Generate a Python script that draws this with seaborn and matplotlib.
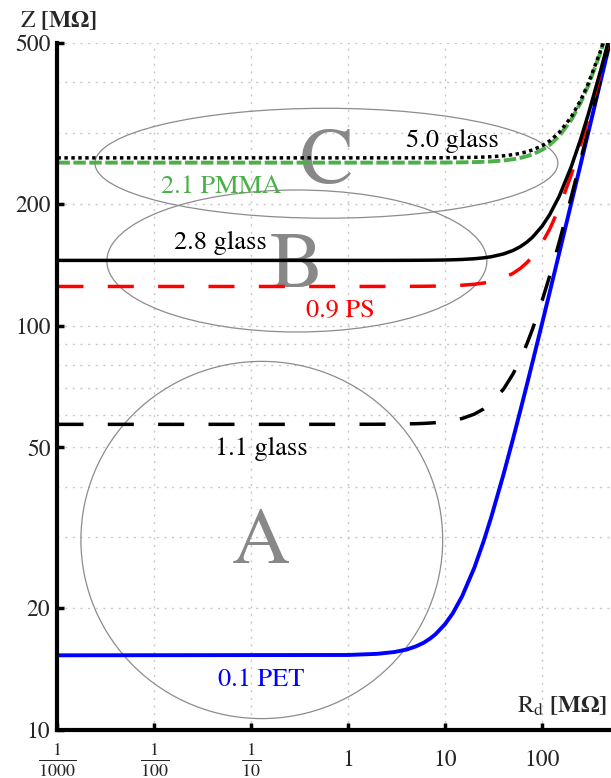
import numpy as np
import pandas as pd
import matplotlib
matplotlib.use('Agg')
import matplotlib.pyplot as plt
import seaborn as sns
from matplotlib.patches import Ellipse
from matplotlib.ticker import NullLocator, NullFormatter

# R_d values (MOhm) along the x axis where the curves were read
rd = [0.001, 1, 2, 3, 4, 5, 6, 7, 8, 10, 12, 15, 20, 25, 30, 40, 50, 60, 70, 80,
      100, 120, 150, 200, 250, 300, 400, 500]

# Z values (MOhm) at the rd points
z_pet = [15.3, 15.33, 15.43, 15.59, 15.81, 16.10, 16.43, 16.83, 17.27, 18.28, 19.44, 21.43,
         25.18, 29.31, 33.68, 42.83, 52.29, 61.92, 71.65, 81.45, 101.16, 120.97, 150.78,
         200.58, 250.47, 300.39, 400.29, 500.23]
z_glass11 = [57, 57.01, 57.04, 57.08, 57.14, 57.22, 57.31, 57.43, 57.56, 57.87, 58.25, 58.94,
             60.41, 62.24, 64.41, 69.63, 75.82, 82.76, 90.27, 98.23, 115.10, 132.85, 160.47,
             207.96, 256.42, 305.37, 404.04, 503.24]
z_ps = [125, 125.0, 125.02, 125.04, 125.06, 125.10, 125.14, 125.20, 125.26, 125.40, 125.57, 125.90,
        126.59, 127.48, 128.55, 131.24, 134.63, 138.65, 143.27, 148.41, 160.08, 173.28, 195.26,
        235.85, 279.51, 325.00, 419.08, 515.39]
z_glass28 = [145, 145.0, 145.01, 145.03, 145.06, 145.09, 145.12, 145.17, 145.22, 145.34, 145.50, 145.77,
             146.37, 147.14, 148.07, 150.42, 153.38, 156.92, 161.01, 165.60, 176.14, 188.22, 208.63,
             247.03, 289.01, 333.20, 425.47, 520.60]
z_pmma = [253, 253.0, 253.01, 253.02, 253.03, 253.05, 253.07, 253.10, 253.13, 253.20, 253.28, 253.44,
          253.79, 254.23, 254.77, 256.14, 257.89, 260.02, 262.51, 265.35, 272.05, 280.02, 294.13,
          322.50, 355.68, 392.44, 473.29, 560.37]
z_glass50 = [260, 260.0, 260.01, 260.02, 260.03, 260.05, 260.07, 260.09, 260.12, 260.19, 260.28, 260.43,
             260.77, 261.20, 261.73, 263.06, 264.76, 266.83, 269.26, 272.03, 278.57, 286.36, 300.17,
             328.02, 360.69, 396.99, 477.07, 563.56]

curve_names = ['0.1 PET', '1.1 glass', '0.9 PS', '2.8 glass', '2.1 PMMA', '5.0 glass']

x_ticks = [0.001, 0.01, 0.1, 1, 10, 100]
x_labels = [r'$\frac{1}{1000}$', r'$\frac{1}{100}$', r'$\frac{1}{10}$', '1', '10', '100']
y_ticks = [10, 20, 50, 100, 200, 500]
y_labels = ['10', '20', '50', '100', '200', '500']

sns.set_theme(style='white')
plt.rcParams['font.family'] = ['STIXGeneral', 'DejaVu Serif']
plt.rcParams['mathtext.fontset'] = 'stix'

fig = plt.figure(figsize=(6.11, 7.78), dpi=100)
ax = fig.add_axes([0.094, 0.0617, 0.904, 0.883])
ax.set_xscale('log')
ax.set_yscale('log')

# curve styles: color, linestyle, width
styles = {
    '0.1 PET': ('#0000ff', '-', 2.8),
    '1.1 glass': ('black', (0, (7.5, 7)), 2.5),
    '0.9 PS': ('#ff0000', (0, (7.5, 7)), 2.5),
    '2.8 glass': ('black', '-', 2.5),
    '2.1 PMMA': ('#4daf4a', (0, (3.2, 0.9)), 2.8),
    '5.0 glass': ('black', (0, (1, 1)), 2.5),
}
curves = [z_pet, z_glass11, z_ps, z_glass28, z_pmma, z_glass50]

for name, z in zip(curve_names, curves):
    col, ls, lw = styles[name]
    sns.lineplot(x=rd, y=z, color=col, linestyle=ls, linewidth=lw,
                 estimator=None, sort=False, ax=ax, zorder=3)

ax.set_xlim(0.001, 500)
ax.set_ylim(10, 500)

# gray ellipses marking the groups (axes coords)
for (cx, cy, w, h) in [(0.487, 0.825, 0.838, 0.160),
                       (0.4335, 0.6827, 0.688, 0.2067),
                       (0.370, 0.2766, 0.655, 0.520)]:
    ax.add_patch(Ellipse((cx, cy), w, h, transform=ax.transAxes, fill=False,
                         ec='#8c8c8c', lw=0.9, zorder=2))

for letter, lx, ly in [('C', 0.488, 0.796), ('B', 0.4335, 0.645), ('A', 0.368, 0.243)]:
    ax.text(lx, ly, letter, transform=ax.transAxes, ha='center', va='baseline',
            fontsize=58, color='#888888', zorder=2)

# curve labels
label_pos = {
    '5.0 glass': (0.715, 0.8486),
    '2.1 PMMA': (0.296, 0.7817),
    '2.8 glass': (0.295, 0.700),
    '0.9 PS': (0.513, 0.601),
    '1.1 glass': (0.369, 0.400),
    '0.1 PET': (0.368, 0.064),
}
for name in curve_names:
    lx, ly = label_pos[name]
    ax.text(lx, ly, name, transform=ax.transAxes, ha='center', va='baseline',
            fontsize=19, color=styles[name][0], zorder=4)

# ticks and grid
ax.set_xticks(x_ticks, labels=x_labels)
ax.xaxis.set_minor_locator(NullLocator())
ax.set_yticks(y_ticks, labels=y_labels)
ax.yaxis.set_minor_formatter(NullFormatter())
ax.tick_params(axis='both', which='major', direction='in', length=5, width=2.5,
               labelsize=17, color='black', left=True, bottom=True)
ax.tick_params(axis='x', which='major', pad=22)
ax.tick_params(axis='y', which='major', pad=5)
ax.tick_params(axis='y', which='minor', length=0, left=True)
for i, lbl in enumerate(ax.get_xticklabels()):
    lbl.set_verticalalignment('center')
    if i < 3:
        lbl.set_fontsize(18.5)
ax.grid(True, axis='x', which='major', color='#c8c8c8', linestyle=(0, (1.5, 4)), linewidth=1)
ax.grid(True, axis='y', which='both', color='#c8c8c8', linestyle=(0, (1.5, 4)), linewidth=1)

sns.despine(ax=ax)
for side in ['left', 'bottom']:
    ax.spines[side].set_color('black')
    ax.spines[side].set_linewidth(3)
    ax.spines[side].set_zorder(5)

# axis labels
fig.text(0.033, 0.9653, r'Z $\mathbf{[M\Omega]}$', fontsize=17, ha='left', va='baseline')
ax.text(0.9946, 0.0247, r'R$_\mathrm{d}$ $\mathbf{[M\Omega]}$', transform=ax.transAxes,
        fontsize=17.5, ha='right', va='baseline')

fig.savefig('out.png', dpi=100)
